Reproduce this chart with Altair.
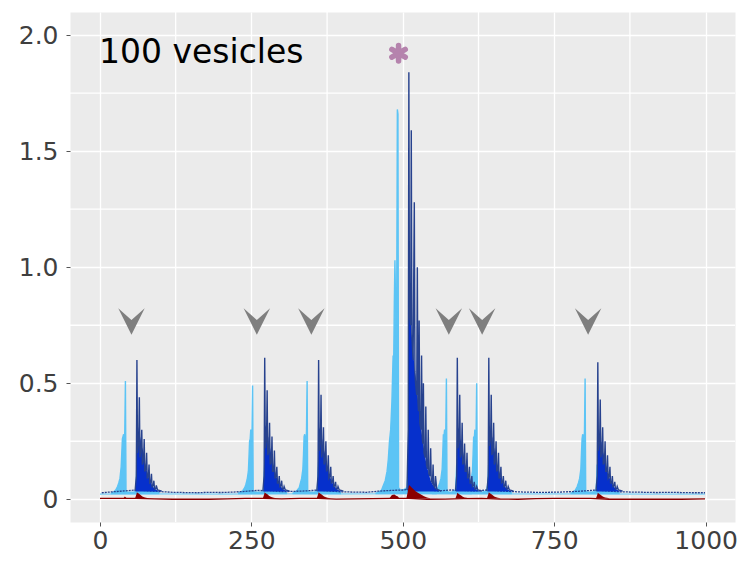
import altair as alt
import pandas as pd

# ---------------- axis ticks / grid ----------------
x_ticks = [0, 250, 500, 750, 1000]
y_ticks = [0, 0.5, 1.0, 1.5, 2.0]
minor_x = [125, 375, 625, 875]
minor_y = [0.25, 0.75, 1.25, 1.75]

# ---------------- light blue (first response) ----------------
lb_base_x = [0, 100, 200, 300, 400, 500, 600, 700, 800, 900, 999]
lb_base_y = [0.022, 0.023, 0.022, 0.024, 0.023, 0.025, 0.024, 0.023, 0.023, 0.022, 0.022]

lb_p1_x = [18, 22, 26, 29, 31, 33, 35, 36, 37, 38, 39, 40, 41, 42, 43, 45, 50, 55, 59, 60,
           61, 63, 65, 68, 71, 75, 80, 86, 92, 98]
lb_p1_y = [0.026, 0.03, 0.04, 0.055, 0.07, 0.09, 0.14, 0.2, 0.26, 0.27, 0.28, 0.22, 0.3, 0.51, 0.035,
           0.03, 0.03, 0.03, 0.035, 0.08, 0.16, 0.14, 0.12, 0.1, 0.08, 0.06, 0.05, 0.04, 0.033, 0.028]
lb_p2_x = [228, 232, 236, 239, 241, 243, 245, 246, 247, 248, 249, 250, 251, 252, 253, 256, 262, 267, 270, 271,
           272, 274, 276, 279, 282, 286, 291, 297, 303, 309]
lb_p2_y = [0.026, 0.03, 0.038, 0.05, 0.065, 0.085, 0.12, 0.18, 0.25, 0.26, 0.3, 0.24, 0.29, 0.49, 0.035,
           0.03, 0.03, 0.032, 0.035, 0.09, 0.15, 0.13, 0.11, 0.09, 0.075, 0.06, 0.045, 0.038, 0.032, 0.028]
lb_p3_x = [318, 322, 326, 329, 331, 333, 335, 336, 337, 338, 339, 340, 341, 342, 343, 346, 352, 356, 359, 360,
           361, 363, 365, 368, 371, 375, 380, 386, 392, 398]
lb_p3_y = [0.026, 0.03, 0.04, 0.05, 0.07, 0.09, 0.13, 0.19, 0.27, 0.28, 0.26, 0.21, 0.3, 0.51, 0.035,
           0.03, 0.03, 0.033, 0.036, 0.1, 0.16, 0.14, 0.12, 0.095, 0.08, 0.06, 0.048, 0.038, 0.032, 0.028]
lb_p4_x = [455, 460, 465, 468, 471, 474, 476, 478, 480, 482, 484, 485, 486, 487, 488, 489, 490, 491, 492, 493,
           496, 500, 504, 507, 509, 510, 512, 515, 518, 521, 525, 529, 533, 537, 541, 545, 550, 556]
lb_p4_y = [0.026, 0.03, 0.04, 0.06, 0.08, 0.12, 0.17, 0.25, 0.3, 0.42, 0.62, 0.6, 0.85, 1.03, 0.86, 0.7, 0.9, 1.68, 1.66, 0.05,
           0.04, 0.04, 0.045, 0.05, 0.12, 0.3, 0.28, 0.25, 0.22, 0.2, 0.17, 0.15, 0.12, 0.1, 0.08, 0.06, 0.045, 0.03]
lb_p5_x = [548, 552, 556, 559, 561, 563, 565, 566, 567, 568, 569, 570, 571, 572, 573, 576, 580, 584, 587, 588,
           589, 591, 593, 596, 599, 603, 608, 614]
lb_p5_y = [0.026, 0.03, 0.04, 0.055, 0.07, 0.09, 0.13, 0.2, 0.28, 0.27, 0.3, 0.24, 0.3, 0.52, 0.035,
           0.03, 0.03, 0.035, 0.04, 0.09, 0.15, 0.13, 0.11, 0.09, 0.07, 0.055, 0.04, 0.03]
lb_p6_x = [598, 602, 606, 609, 611, 613, 615, 616, 617, 618, 619, 620, 621, 622, 623, 626, 630, 634, 638, 640,
           641, 642, 644, 647, 650, 654, 659, 665, 672, 680]
lb_p6_y = [0.026, 0.03, 0.04, 0.05, 0.065, 0.085, 0.12, 0.19, 0.27, 0.26, 0.3, 0.22, 0.28, 0.5, 0.035,
           0.03, 0.03, 0.033, 0.036, 0.06, 0.1, 0.16, 0.14, 0.12, 0.1, 0.08, 0.06, 0.045, 0.035, 0.028]
lb_p7_x = [777, 781, 785, 788, 790, 792, 794, 795, 796, 797, 798, 799, 800, 801, 802, 805, 811, 816, 819, 820,
           821, 823, 825, 828, 831, 835, 840, 846, 852, 858]
lb_p7_y = [0.026, 0.03, 0.04, 0.055, 0.07, 0.09, 0.13, 0.2, 0.26, 0.28, 0.27, 0.22, 0.3, 0.52, 0.035,
           0.03, 0.03, 0.033, 0.036, 0.08, 0.15, 0.13, 0.11, 0.09, 0.075, 0.06, 0.045, 0.038, 0.032, 0.028]

# ---------------- bright blue (second response, envelope) ----------------
bb_p1_x = [59, 60, 61, 62, 63, 64, 65, 66, 67, 68, 70, 72, 74, 76, 78, 80, 83, 86, 90, 95, 100]
bb_p1_y = [0.035, 0.15, 0.32, 0.3, 0.31, 0.29, 0.3, 0.25, 0.27, 0.23, 0.22, 0.2, 0.16, 0.14, 0.115, 0.1, 0.075, 0.06, 0.045, 0.038, 0.035]
bb_p2_x = [270, 271, 272, 273, 274, 275, 276, 277, 278, 279, 281, 283, 285, 287, 289, 291, 294, 297, 301, 306, 311]
bb_p2_y = [0.035, 0.15, 0.33, 0.31, 0.32, 0.3, 0.3, 0.26, 0.27, 0.23, 0.22, 0.19, 0.16, 0.14, 0.12, 0.1, 0.078, 0.06, 0.046, 0.038, 0.035]
bb_p3_x = [359, 360, 361, 362, 363, 364, 365, 366, 367, 368, 370, 372, 374, 376, 378, 380, 383, 386, 390, 395, 400]
bb_p3_y = [0.035, 0.15, 0.31, 0.3, 0.31, 0.28, 0.29, 0.25, 0.26, 0.22, 0.21, 0.19, 0.16, 0.13, 0.11, 0.095, 0.075, 0.06, 0.045, 0.038, 0.035]
bb_p4_x = [508, 509, 510, 511, 512, 513, 514, 516, 518, 520, 522, 524, 526, 528, 530, 533, 536, 539, 542, 546, 550, 555, 560]
bb_p4_y = [0.04, 0.4, 0.94, 0.9, 0.85, 0.78, 0.72, 0.68, 0.61, 0.55, 0.5, 0.46, 0.4, 0.36, 0.31, 0.25, 0.2, 0.15, 0.12, 0.08, 0.06, 0.045, 0.035]
bb_p5_x = [588, 589, 590, 591, 592, 593, 594, 595, 596, 597, 599, 601, 603, 605, 607, 609, 612, 615, 619, 624, 629]
bb_p5_y = [0.035, 0.15, 0.32, 0.3, 0.31, 0.29, 0.3, 0.25, 0.26, 0.22, 0.21, 0.18, 0.15, 0.13, 0.11, 0.095, 0.075, 0.06, 0.045, 0.038, 0.035]
bb_p6_x = [640, 641, 642, 643, 644, 645, 646, 647, 648, 649, 651, 653, 655, 657, 659, 661, 664, 667, 671, 676, 681]
bb_p6_y = [0.035, 0.15, 0.33, 0.31, 0.32, 0.29, 0.3, 0.26, 0.27, 0.23, 0.22, 0.19, 0.16, 0.14, 0.12, 0.1, 0.078, 0.06, 0.046, 0.038, 0.035]
bb_p7_x = [820, 821, 822, 823, 824, 825, 826, 827, 828, 829, 831, 833, 835, 837, 839, 841, 844, 847, 851, 856, 861]
bb_p7_y = [0.035, 0.15, 0.31, 0.29, 0.3, 0.28, 0.29, 0.24, 0.25, 0.21, 0.2, 0.18, 0.15, 0.13, 0.11, 0.095, 0.075, 0.06, 0.045, 0.038, 0.035]

# ---------------- navy (second response, individual spikes) ----------------
nb_x = [3, 20, 40, 60, 80, 100, 120, 140, 160, 180, 200, 220, 240, 260, 280, 300, 320, 340, 360, 380,
        400, 420, 440, 460, 480, 500, 520, 540, 560, 580, 600, 620, 640, 660, 680, 700, 720, 740, 760, 780,
        800, 820, 840, 860, 880, 900, 920, 940, 960, 980, 999]
nb_y = [0.028, 0.032, 0.036, 0.04, 0.036, 0.033, 0.03, 0.029, 0.028, 0.03, 0.029, 0.031, 0.034, 0.038, 0.037,
        0.033, 0.034, 0.036, 0.04, 0.035, 0.032, 0.031, 0.03, 0.035, 0.038, 0.04, 0.045, 0.04, 0.036, 0.04,
        0.038, 0.036, 0.04, 0.036, 0.033, 0.031, 0.03, 0.03, 0.031, 0.033, 0.036, 0.04, 0.035, 0.032, 0.031,
        0.03, 0.029, 0.03, 0.029, 0.028, 0.028]

nv_p1_x = [58, 60, 61, 62, 64, 65, 66, 68, 69, 70, 72, 73, 74, 76, 77, 78, 80, 81, 82, 84,
           85, 86, 88, 89, 90, 92, 93, 95, 98, 102]
nv_p1_y = [0.035, 0.1, 0.60, 0.2, 0.25, 0.44, 0.18, 0.22, 0.30, 0.15, 0.17, 0.26, 0.12, 0.13, 0.2, 0.09, 0.1, 0.15, 0.07, 0.075,
           0.11, 0.055, 0.06, 0.08, 0.045, 0.045, 0.06, 0.04, 0.038, 0.035]
nv_p2_x = [269, 271, 272, 273, 275, 276, 277, 279, 280, 281, 283, 284, 285, 287, 288, 289, 291, 292, 293, 295,
           296, 297, 299, 300, 301, 303, 304, 306, 309, 313]
nv_p2_y = [0.035, 0.1, 0.61, 0.22, 0.26, 0.47, 0.19, 0.21, 0.33, 0.15, 0.16, 0.27, 0.12, 0.12, 0.21, 0.09, 0.1, 0.14, 0.07, 0.07,
           0.1, 0.055, 0.06, 0.08, 0.045, 0.045, 0.055, 0.04, 0.038, 0.035]
nv_p3_x = [358, 360, 361, 362, 364, 365, 366, 368, 369, 370, 372, 373, 374, 376, 377, 378, 380, 381, 382, 384,
           385, 386, 388, 389, 390, 392, 393, 395, 398, 402]
nv_p3_y = [0.035, 0.1, 0.60, 0.21, 0.25, 0.45, 0.18, 0.22, 0.31, 0.15, 0.17, 0.25, 0.12, 0.13, 0.19, 0.09, 0.1, 0.14, 0.07, 0.075,
           0.1, 0.055, 0.06, 0.075, 0.045, 0.045, 0.055, 0.04, 0.038, 0.035]
nv_p4_x = [507, 509, 510, 511, 513, 514, 515, 517, 519, 520, 521, 523, 524, 525, 526, 527, 528, 530, 531, 532,
           533, 534, 535, 537, 538, 539, 541, 542, 543, 545, 546, 547, 549, 550, 551, 553, 554, 556, 559, 563]
nv_p4_y = [0.04, 0.3, 1.84, 0.8, 0.75, 1.59, 0.7, 0.6, 1.28, 0.55, 0.5, 0.45, 1.0, 0.42, 0.38, 0.77, 0.33, 0.3, 0.62, 0.27,
           0.24, 0.5, 0.2, 0.18, 0.4, 0.15, 0.13, 0.3, 0.11, 0.1, 0.22, 0.08, 0.07, 0.15, 0.06, 0.05, 0.1, 0.045, 0.04, 0.035]
nv_p5_x = [587, 589, 590, 591, 593, 594, 595, 597, 598, 599, 601, 602, 603, 605, 606, 607, 609, 610, 611, 613,
           614, 615, 617, 618, 619, 621, 622, 624, 627, 631]
nv_p5_y = [0.035, 0.1, 0.61, 0.22, 0.26, 0.45, 0.18, 0.2, 0.33, 0.15, 0.16, 0.24, 0.12, 0.12, 0.2, 0.09, 0.1, 0.14, 0.07, 0.07,
           0.1, 0.055, 0.06, 0.075, 0.045, 0.045, 0.055, 0.04, 0.038, 0.035]
nv_p6_x = [639, 641, 642, 643, 645, 646, 647, 649, 650, 651, 653, 654, 655, 657, 658, 659, 661, 662, 663, 665,
           666, 667, 669, 670, 671, 673, 674, 676, 679, 683]
nv_p6_y = [0.035, 0.1, 0.61, 0.23, 0.26, 0.45, 0.19, 0.21, 0.33, 0.15, 0.17, 0.25, 0.12, 0.13, 0.2, 0.09, 0.1, 0.14, 0.07, 0.075,
           0.1, 0.055, 0.06, 0.08, 0.045, 0.045, 0.055, 0.04, 0.038, 0.035]
nv_p7_x = [819, 821, 822, 823, 825, 826, 827, 829, 830, 831, 833, 834, 835, 837, 838, 839, 841, 842, 843, 845,
           846, 847, 849, 850, 851, 853, 854, 856, 859, 863]
nv_p7_y = [0.035, 0.1, 0.59, 0.21, 0.25, 0.43, 0.18, 0.21, 0.31, 0.15, 0.16, 0.25, 0.12, 0.12, 0.19, 0.09, 0.1, 0.14, 0.07, 0.07,
           0.1, 0.055, 0.06, 0.075, 0.045, 0.045, 0.055, 0.04, 0.038, 0.035]

# ---------------- dark red (control) ----------------
rb_x = [0, 30, 60, 90, 120, 150, 180, 210, 240, 270, 300, 330, 360, 390, 420, 450, 480, 510, 540, 570,
        600, 630, 660, 690, 720, 750, 780, 810, 840, 870, 900, 930, 960, 999]
rb_y = [0.004, 0.004, 0.004, 0.002, 0.0, 0.001, 0.0, 0.002, 0.004, 0.004, 0.002, 0.004, 0.004, 0.001, 0.002,
        0.003, 0.004, 0.004, 0.0, 0.001, 0.003, 0.004, 0.001, 0.0, 0.003, 0.004, 0.004, 0.004, 0.0, 0.001,
        0.0, 0.001, 0.0, 0.002]
rd_p1_x = [58, 60, 61, 62, 64, 66, 68, 70, 73, 76, 80]
rd_p1_y = [0.004, 0.02, 0.03, 0.028, 0.025, 0.02, 0.016, 0.012, 0.009, 0.006, 0.004]
rd_p2_x = [269, 271, 272, 273, 275, 277, 279, 281, 284, 287, 291]
rd_p2_y = [0.004, 0.02, 0.03, 0.027, 0.024, 0.02, 0.015, 0.012, 0.009, 0.006, 0.004]
rd_p3_x = [358, 360, 361, 362, 364, 366, 368, 370, 373, 376, 380]
rd_p3_y = [0.004, 0.02, 0.03, 0.028, 0.024, 0.02, 0.016, 0.012, 0.009, 0.006, 0.004]
rd_p4_x = [506, 508, 510, 511, 513, 515, 518, 521, 525, 530, 535, 540, 545]
rd_p4_y = [0.004, 0.03, 0.058, 0.06, 0.055, 0.05, 0.042, 0.035, 0.028, 0.02, 0.013, 0.008, 0.004]
rd_p5_x = [587, 589, 590, 591, 593, 595, 597, 599, 602, 605, 609]
rd_p5_y = [0.004, 0.018, 0.028, 0.026, 0.022, 0.018, 0.015, 0.011, 0.008, 0.006, 0.004]
rd_p6_x = [639, 641, 642, 643, 645, 647, 649, 651, 654, 657, 661]
rd_p6_y = [0.004, 0.02, 0.03, 0.028, 0.024, 0.02, 0.016, 0.012, 0.009, 0.006, 0.004]
rd_p7_x = [819, 821, 822, 823, 825, 827, 829, 831, 834, 837, 841]
rd_p7_y = [0.004, 0.018, 0.028, 0.026, 0.022, 0.018, 0.014, 0.011, 0.008, 0.006, 0.004]
rd_s1_x = [39, 41, 42, 44]
rd_s1_y = [0.004, 0.012, 0.01, 0.004]
rd_s4_x = [478, 482, 486, 489, 492, 494]
rd_s4_y = [0.004, 0.018, 0.02, 0.015, 0.012, 0.004]

# ---------------- annotations ----------------
arrow_x = [52, 259, 349, 576, 631, 806]
arrow_y = [0.766, 0.766, 0.766, 0.766, 0.766, 0.766]
star_x = [493]
star_y = [1.922]
label_text = ["100 vesicles"]
label_x = [0]
label_y = [1.879]

# ---------------- colours ----------------
C_LIGHT = "#5CC4F5"
C_BRIGHT = "#0630CC"
C_NAVY = "#27428E"
C_RED = "#8B0000"


def frame(segments, base):
    rows = []
    for sid, (xs, ys) in enumerate(segments):
        assert len(xs) == len(ys)
        for a, b in zip(xs, ys):
            rows.append({"seg": sid, "x": a, "y": b, "base": base})
    return pd.DataFrame(rows)


lb_df = frame([(lb_p1_x, lb_p1_y), (lb_p2_x, lb_p2_y), (lb_p3_x, lb_p3_y), (lb_p4_x, lb_p4_y),
               (lb_p5_x, lb_p5_y), (lb_p6_x, lb_p6_y), (lb_p7_x, lb_p7_y)], 0.022)
bb_df = frame([(bb_p1_x, bb_p1_y), (bb_p2_x, bb_p2_y), (bb_p3_x, bb_p3_y), (bb_p4_x, bb_p4_y),
               (bb_p5_x, bb_p5_y), (bb_p6_x, bb_p6_y), (bb_p7_x, bb_p7_y)], 0.033)
nv_df = frame([(nv_p1_x, nv_p1_y), (nv_p2_x, nv_p2_y), (nv_p3_x, nv_p3_y), (nv_p4_x, nv_p4_y),
               (nv_p5_x, nv_p5_y), (nv_p6_x, nv_p6_y), (nv_p7_x, nv_p7_y)], 0.033)
rd_df = frame([(rd_p1_x, rd_p1_y), (rd_p2_x, rd_p2_y), (rd_p3_x, rd_p3_y), (rd_p4_x, rd_p4_y),
               (rd_p5_x, rd_p5_y), (rd_p6_x, rd_p6_y), (rd_p7_x, rd_p7_y), (rd_s1_x, rd_s1_y),
               (rd_s4_x, rd_s4_y)], 0.003)
lb_base_df = frame([(lb_base_x, lb_base_y)], 0)
nb_df = frame([(nb_x, nb_y)], 0)
rb_df = frame([(rb_x, rb_y)], 0)
arrow_df = pd.DataFrame({"x": arrow_x, "y": arrow_y})
star_df = pd.DataFrame({"x": star_x, "y": star_y})
label_df = pd.DataFrame({"x": label_x, "y": label_y, "t": label_text})
mx_df = pd.DataFrame({"x": minor_x})
my_df = pd.DataFrame({"y": minor_y})

axis_common = dict(domain=False, grid=True, gridColor="white", gridWidth=1.3,
                   ticks=True, tickColor="#555555", tickSize=4, tickWidth=1,
                   labelFont="DejaVu Sans", labelFontSize=25, labelColor="#3f3f3f",
                   title=None, labelOverlap=False)

X = alt.X("x:Q",
          scale=alt.Scale(domain=[-49.5, 1048.5], nice=False, zero=False),
          axis=alt.Axis(values=x_ticks, labelPadding=2, labelFlush=False, format="d", **axis_common))
Y = alt.Y("y:Q",
          scale=alt.Scale(domain=[-0.098, 2.10], nice=False, zero=False),
          axis=alt.Axis(values=y_ticks, labelPadding=8,
                        labelExpr="datum.value == 0 ? '0' : format(datum.value, '.1f')",
                        **axis_common))

grid_x = alt.Chart(mx_df).mark_rule(color="white", strokeWidth=1.3).encode(x=X)
grid_y = alt.Chart(my_df).mark_rule(color="white", strokeWidth=1.3).encode(y=Y)

lb_base = alt.Chart(lb_base_df).mark_line(color="#9ad8f5", strokeWidth=1.6).encode(x=X, y=Y)
lb_area = alt.Chart(lb_df).mark_area(
    color=C_LIGHT, opacity=1, line={"color": C_LIGHT, "strokeWidth": 1.4}
).encode(x=X, y=Y, y2="base:Q", detail="seg:N")
nb_line = alt.Chart(nb_df).mark_line(color=C_NAVY, strokeWidth=1.3, strokeDash=[2, 1]).encode(x=X, y=Y)
bb_area = alt.Chart(bb_df).mark_area(color=C_BRIGHT, opacity=1).encode(
    x=X, y=Y, y2="base:Q", detail="seg:N")
nv_line = alt.Chart(nv_df).mark_line(color=C_NAVY, strokeWidth=1.4).encode(
    x=X, y=Y, detail="seg:N")
rb_line = alt.Chart(rb_df).mark_line(color=C_RED, strokeWidth=1.3).encode(x=X, y=Y)
rd_area = alt.Chart(rd_df).mark_area(color=C_RED, opacity=1).encode(
    x=X, y=Y, y2="base:Q", detail="seg:N")

arrows = alt.Chart(arrow_df).mark_point(
    shape="M-1,-1L0,-0.12L1,-1L0,1Z", filled=True, size=700, color="#7f7f7f",
    opacity=1, strokeWidth=0).encode(x=X, y=Y)
star = alt.Chart(star_df).mark_point(
    shape="M0,-1L0,1M-0.866,-0.5L0.866,0.5M-0.866,0.5L0.866,-0.5",
    filled=False, size=240, color="#b583ad", strokeWidth=5.5, strokeCap="round",
    opacity=1).encode(x=X, y=Y)
label = alt.Chart(label_df).mark_text(
    font="DejaVu Sans", fontSize=33, color="black", align="left", baseline="alphabetic",
    dx=-1).encode(x=X, y=Y, text="t:N")

chart = alt.layer(
    grid_x, grid_y, lb_base, lb_area, nb_line, bb_area, nv_line, rb_line, rd_area,
    arrows, star, label
).properties(
    width=665, height=510,
    autosize=alt.AutoSizeParams(type="none"),
    padding={"left": 70, "top": 12, "right": 14, "bottom": 39},
    background="white",
).configure_view(fill="#EBEBEB", stroke="transparent")

chart.save("out.html", embed_options={"renderer": "svg", "actions": False})
